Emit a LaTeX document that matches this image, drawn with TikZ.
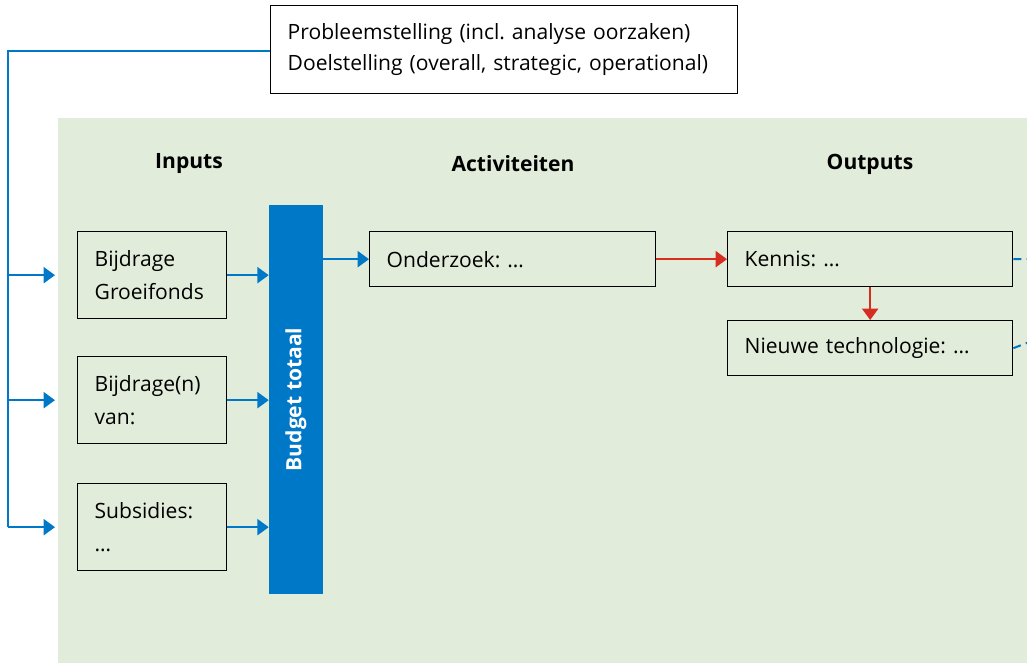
\documentclass[tikz,border=0pt]{standalone}
\usepackage{fontspec}
\setmainfont{Open Sans}
\usetikzlibrary{arrows.meta, positioning}
\definecolor{rogreen}{RGB}{225,236,218}
\definecolor{roblue}{RGB}{0,120,200}
\definecolor{rored}{RGB}{214,45,32}
\frenchspacing

\tikzset{
  txt/.style={font=\fontsize{15.8}{24.5}\selectfont},
  box/.style={txt, draw, line width=1pt, align=left, inner xsep=12.75pt, inner ysep=0pt},
  inbox/.style={box, anchor=north west, text width=86.25pt, minimum height=65.25pt},
  stepbox/.style={box, anchor=north west, text width=188.25pt, minimum height=41.25pt},
  head/.style={font=\fontsize{15.8}{18}\selectfont\bfseries},
  bluearrow/.style={roblue, line width=1.5pt, -{Triangle[length=8.5pt, width=12pt]}},
  redarrow/.style={rored, line width=1.5pt, -{Triangle[length=8.5pt, width=12pt]}},
}

\begin{document}
\begin{tikzpicture}[x=0.75pt, y=-0.75pt]
                    \useasboundingbox (0,0) rectangle (1027,663);
                    \fill[rogreen] (58,118) rectangle (1027,663);

                    \node[box, anchor=north west, text width=324.75pt, minimum height=66pt] (probleem) at (270,5) {\raisebox{-1.5pt}{Probleemstelling (incl. analyse oorzaken)}\\Doelstelling (overall, strategic, operational)};

                    \node[head] (hinputs) at (189,164) {Inputs};
                    \node[head] (hactiviteiten) at (513,164) {Activiteiten};
                    \node[head] (houtputs) at (870,164) {Outputs};

                    \node[inbox] (groeifonds) at (77,231) {Bijdrage\\Groeifonds};
                    \node[inbox] (bijdragen) at (77,356) {Bijdrage(n)\\van:};
                    \node[inbox] (subsidies) at (77,483) {Subsidies:\\…};

                    \node[fill=roblue, text=white, rotate=90, minimum width=291.75pt, minimum height=40.5pt, inner sep=0pt, head] (budget) at (296,399.5) {Budget totaal};

                    \node[stepbox, text width=189pt] (onderzoek) at (369,231) {Onderzoek: …};
                    \node[stepbox] (kennis) at (727,231) {Kennis: …};
                    \node[stepbox] (technologie) at (727,320) {Nieuwe technologie: …};

                    \coordinate (spine) at (8,527);
                    \coordinate (uit1) at (1032,259);
                    \coordinate (uit2) at (1032,341);

                    % terugkoppeling naar de inputs
                    \draw[roblue, line width=1.5pt] ([yshift=-1pt]probleem.west) -| (spine);
                    \foreach \b in {groeifonds, bijdragen, subsidies}
                        \draw[bluearrow] (spine |- \b.west) -- ([xshift=-16.5pt]\b.west);

                    \foreach \b in {groeifonds, bijdragen, subsidies}
                        \draw[bluearrow] (\b.east) -- (\b.east -| budget.north);

                    \draw[bluearrow] (onderzoek.west -| budget.south) -- (onderzoek.west);
                    \draw[redarrow] (onderzoek.east) -- (kennis.west);
                    \draw[redarrow] (kennis.south) -- (technologie.north);

                    \draw[roblue, line width=1.5pt, dash pattern=on 6pt off 4pt] (kennis.east) -- (uit1);
                    \draw[roblue, line width=1.5pt, dash pattern=on 6pt off 4pt] (technologie.east) -- (uit2);
\end{tikzpicture}
\end{document}
